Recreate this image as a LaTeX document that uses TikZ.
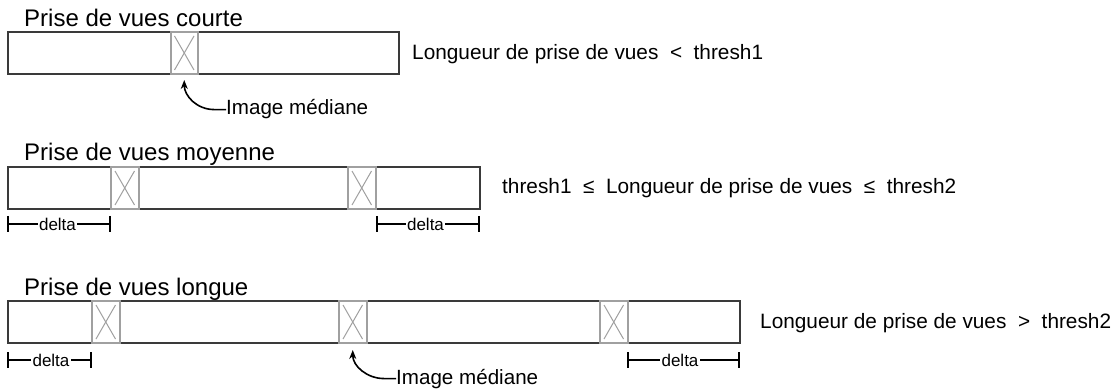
\documentclass[tikz,border=0pt]{standalone}
\usepackage{fontspec}
\setmainfont{Liberation Sans}
\usetikzlibrary{arrows.meta}
\definecolor{barc}{HTML}{3A3A3A}
\definecolor{frmc}{HTML}{A0A0A0}
\begin{document}
\begin{tikzpicture}[x=1pt,y=-1pt,
  bar/.style={draw=barc, line width=1.2pt, rectangle, inner sep=0pt, outer sep=0pt, anchor=north west, minimum height=42pt},
  frm/.style={draw=frmc, line width=2pt, fill=white, rectangle, inner sep=0pt, outer sep=0pt, anchor=north west, minimum width=27.5pt, minimum height=42pt},
  xline/.style={draw=frmc, line width=1pt},
  title/.style={anchor=base west, inner sep=0pt, font=\fontsize{24}{28}\selectfont},
  cond/.style={anchor=base west, inner sep=0pt, font=\fontsize{20.8}{24}\selectfont},
  imlab/.style={anchor=base west, inner sep=0pt, font=\fontsize{20.6}{24}\selectfont},
  dlab/.style={fill=white, inner sep=0pt, inner xsep=1.5pt, font=\fontsize{17}{20}\selectfont},
  dim/.style={draw=black, line width=1.2pt},
  arr/.style={draw=black, line width=1.6pt, -{Stealth[length=9pt,width=7pt]}}
]
\useasboundingbox (0,0) rectangle (1116,390);
\newcommand{\frameX}[1]{\draw[xline] ([xshift=4pt,yshift=-4pt]#1.north west) -- ([xshift=-4pt,yshift=4pt]#1.south east);
  \draw[xline] ([xshift=-4pt,yshift=-4pt]#1.north east) -- ([xshift=4pt,yshift=4pt]#1.south west);}
\newcommand{\dimbar}[4]{% name, x1, x2, y
  \coordinate (#1a) at (#2,#4); \coordinate (#1b) at (#3,#4);
  \draw[dim] (#1a) -- (#1b);
  \draw[dim] ([yshift=8pt]#1a) -- ([yshift=-8pt]#1a);
  \draw[dim] ([yshift=8pt]#1b) -- ([yshift=-8pt]#1b);}

% ---------- short ----------
\node[title] (t1) at (24,27) {Prise de vues courte};
\node[bar, minimum width=391pt] (b1) at (8,32) {};
\node[frm] (f1) at (170.5,32) {}; \frameX{f1}
\node[cond] (c1) at (412,60) {Longueur de prise de vues\ \ <\ \ thresh1};
\node[imlab] (im1) at (226,115) {Image médiane};
\draw[arr] (im1.west) -- ++(-12,0) .. controls +(-17,0) and +(0,16) .. ([yshift=-6pt]f1.south);

% ---------- medium ----------
\node[title] (t2) at (24,161) {Prise de vues moyenne};
\node[bar, minimum width=472pt] (b2) at (8,167) {};
\node[frm] (f2a) at (111,167) {}; \frameX{f2a}
\node[frm] (f2b) at (348,167) {}; \frameX{f2b}
\node[cond] (c2) at (502,194) {thresh1\ \ ≤\ \ Longueur de prise de vues\ \ ≤\ \ thresh2};
\dimbar{d2l}{8}{110}{224}
\node[dlab] (dt2l) at (57.5,224) {delta};
\dimbar{d2r}{377}{479}{224}
\node[dlab] (dt2r) at (425.5,224) {delta};

% ---------- long ----------
\node[title] (t3) at (24,295) {Prise de vues longue};
\node[bar, minimum width=732pt] (b3) at (8,301) {};
\node[frm] (f3a) at (92,301) {}; \frameX{f3a}
\node[frm] (f3b) at (339,301) {}; \frameX{f3b}
\node[frm] (f3c) at (600,301) {}; \frameX{f3c}
\node[cond] (c3) at (760,328) {Longueur de prise de vues\ \ >\ \ thresh2};
\dimbar{d3l}{8}{91}{360}
\node[dlab] (dt3l) at (51,360) {delta};
\dimbar{d3r}{628}{739}{360}
\node[dlab] (dt3r) at (680,360) {delta};
\node[imlab] (im3) at (396,384) {Image médiane};
\draw[arr] (im3.west) -- ++(-12,0) .. controls +(-17,0) and +(0,16) .. ([yshift=-7pt]f3b.south);
\end{tikzpicture}
\end{document}
